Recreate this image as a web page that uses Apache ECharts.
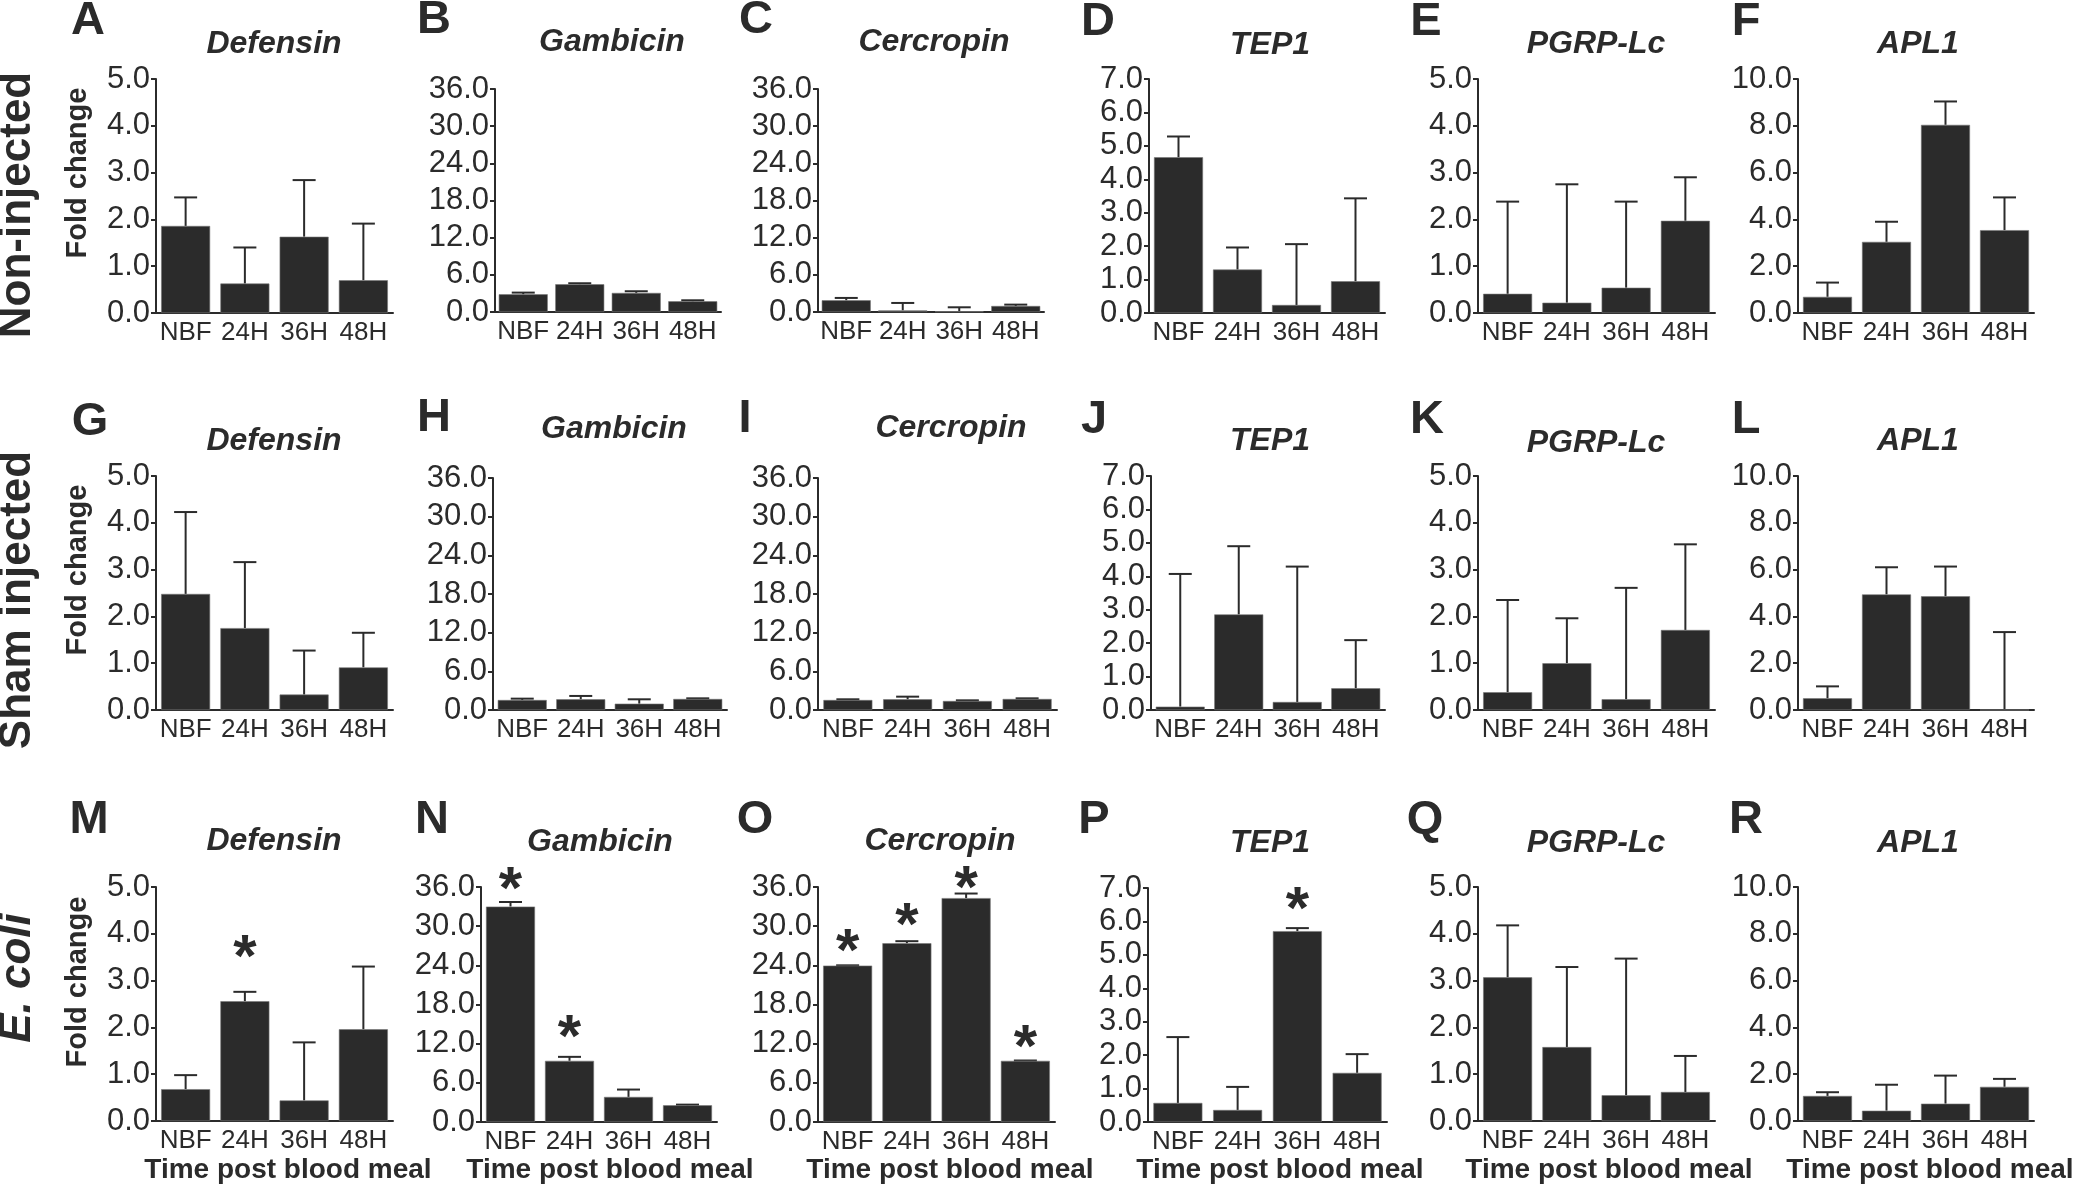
<!DOCTYPE html>
<html><head><meta charset="utf-8">
<script src="https://cdn.jsdelivr.net/npm/echarts@6/dist/echarts.min.js"></script>
<style>html,body{margin:0;padding:0;background:#fff}#c{width:2078px;height:1190px}</style>
</head><body><div id="c"></div>
<script>
// ---------------- data ----------------
const categories = ['NBF', '24H', '36H', '48H'];
const genes = ['Defensin', 'Gambicin', 'Cercropin', 'TEP1', 'PGRP-Lc', 'APL1'];
const panelLetters = ['A','B','C','D','E','F','G','H','I','J','K','L','M','N','O','P','Q','R'];
const groupNames = ['Non-injected', 'Sham injected', 'E. coli'];
const yTitle = 'Fold change';
const xTitle = 'Time post blood meal';
const yMax = [5, 36, 36, 7, 5, 10];
const yStep = [1, 6, 6, 1, 1, 2];

// mean fold change (bar height) and top of error bar, per gene, per time point
const nonInjectedMean = [
  [1.86, 0.63, 1.63, 0.70],
  [2.86, 4.48, 3.08, 1.73],
  [1.89, 0.27, 0.10, 0.97],
  [4.66, 1.30, 0.24, 0.95],
  [0.41, 0.22, 0.54, 1.97],
  [0.69, 3.04, 8.04, 3.54]
];
const nonInjectedUpper = [
  [2.47, 1.40, 2.84, 1.91],
  [3.13, 4.64, 3.35, 1.89],
  [2.27, 1.46, 0.76, 1.19],
  [5.28, 1.96, 2.06, 3.43],
  [2.38, 2.75, 2.38, 2.90],
  [1.30, 3.90, 9.04, 4.94]
];
const shamMean = [
  [2.48, 1.75, 0.33, 0.91],
  [1.55, 1.66, 0.98, 1.71],
  [1.55, 1.66, 1.40, 1.71],
  [0.10, 2.86, 0.24, 0.65],
  [0.38, 1.00, 0.23, 1.71],
  [0.50, 4.94, 4.86, 0.00]
];
const shamUpper = [
  [4.23, 3.16, 1.27, 1.65],
  [1.76, 2.18, 1.66, 1.81],
  [1.66, 2.07, 1.50, 1.81],
  [4.07, 4.90, 4.29, 2.09],
  [2.35, 1.96, 2.61, 3.54],
  [1.01, 6.10, 6.13, 3.33]
];
const ecoliMean = [
  [0.68, 2.56, 0.44, 1.96],
  [33.0, 9.37, 3.84, 2.56],
  [23.96, 27.39, 34.3, 9.37],
  [0.57, 0.36, 5.71, 1.47],
  [3.07, 1.58, 0.55, 0.62],
  [1.07, 0.44, 0.74, 1.46]
];
const ecoliUpper = [
  [0.98, 2.76, 1.68, 3.30],
  [33.7, 9.98, 4.97, 2.66],
  [24.0, 27.7, 35.0, 9.42],
  [2.54, 1.05, 5.80, 2.03],
  [4.18, 3.29, 3.47, 1.39],
  [1.23, 1.55, 1.94, 1.80]
];
// height (in axis units) where a significance asterisk sits
const ecoliStars = [
  [null, 3.75, null, null],
  [37.4, 14.8, null, null],
  [27.9, 32.0, 37.6, 13.3],
  [null, null, 6.73, null],
  [null, null, null, null],
  [null, null, null, null]
];

// ---------------- layout ----------------
const FONT = "'Liberation Sans', Arial, Helvetica, sans-serif";
const INK = '#2b2b2b';
const BAR = '#2b2b2b';
// [left, right, top, bottom] of each plot area, in px
const boxes = [
  [156, 393, 79, 313], [495, 721, 89, 312], [818, 1044, 89, 312], [1149, 1385, 79, 313], [1478, 1715, 79, 313], [1798, 2034, 79, 313],
  [156, 393, 476, 710], [493, 727, 478, 710], [818, 1057, 478, 710], [1151, 1385, 476, 710], [1478, 1715, 476, 710], [1798, 2034, 476, 710],
  [156, 393, 887, 1121], [481, 717, 887, 1122], [818, 1055, 887, 1122], [1148, 1387, 888, 1122], [1478, 1715, 887, 1121], [1798, 2034, 887, 1121]
];
const letterPos = [
  [88, 21], [434, 20], [756, 20], [1098, 22], [1426, 22], [1746, 22],
  [90, 422], [434, 418], [745, 419], [1094, 420], [1427, 420], [1746, 420],
  [89, 820], [432, 820], [755, 820], [1094, 820], [1425, 820], [1746, 820]
];
const titlePos = [
  [274, 44], [612, 42], [934, 42], [1270, 45], [1596, 44], [1918, 44],
  [274, 441], [614, 429], [951, 428], [1270, 441], [1596, 443], [1918, 441],
  [274, 841], [600, 842], [940, 841], [1270, 843], [1596, 843], [1918, 843]
];
const xTitlePos = [288, 610, 950, 1280, 1609, 1930];
const groupPos = [[18, 205], [18, 600], [18, 978]];
const foldPos = [[78, 173], [78, 570], [78, 982]];

const means = [nonInjectedMean, shamMean, ecoliMean];
const uppers = [nonInjectedUpper, shamUpper, ecoliUpper];

const grids = [], xAxes = [], yAxes = [], series = [], graphics = [];

function errRender(params, api) {
  const x = api.value(0), m = api.value(1), u = api.value(2);
  const p0 = api.coord([x, m]);
  const p1 = api.coord([x, u]);
  const cw = 23;
  const st = { stroke: INK, lineWidth: 2 };
  return {
    type: 'group',
    children: [
      { type: 'line', shape: { x1: p0[0], y1: p0[1], x2: p1[0], y2: p1[1] }, style: st },
      { type: 'line', shape: { x1: p1[0] - cw / 2, y1: p1[1], x2: p1[0] + cw / 2, y2: p1[1] }, style: st }
    ]
  };
}
function starRender(params, api) {
  const p = api.coord([api.value(0), api.value(1)]);
  return {
    type: 'text', x: p[0], y: p[1] + 14,
    style: { text: '*', fill: INK, font: 'bold 60px ' + FONT, textAlign: 'center', textVerticalAlign: 'middle' }
  };
}

for (let r = 0; r < 3; r++) {
  for (let c = 0; c < 6; c++) {
    const idx = r * 6 + c;
    const [l, rr, t, b] = boxes[idx];
    grids.push({ left: l, top: t, width: rr - l, height: b - t, outerBoundsMode: 'none' });
    xAxes.push({
      type: 'category', gridIndex: idx, data: categories, boundaryGap: true,
      axisLine: { show: true, lineStyle: { color: INK, width: 2 } },
      axisTick: { show: false },
      axisLabel: { color: INK, fontSize: 26, fontFamily: FONT, margin: 7, interval: 0 }
    });
    yAxes.push({
      type: 'value', gridIndex: idx, min: 0, max: yMax[c], interval: yStep[c],
      axisLine: { show: true, lineStyle: { color: INK, width: 2 } },
      axisTick: { show: true, length: 5, lineStyle: { color: INK, width: 2 } },
      splitLine: { show: false },
      axisLabel: { color: INK, fontSize: 31, fontFamily: FONT, margin: 6, formatter: v => v.toFixed(1) }
    });
    const mean = means[r][c], up = uppers[r][c];
    series.push({
      type: 'bar', xAxisIndex: idx, yAxisIndex: idx, data: mean, barWidth: 49,
      itemStyle: { color: BAR, borderColor: '#777', borderWidth: 0.6 }, silent: true
    });
    series.push({
      type: 'custom', xAxisIndex: idx, yAxisIndex: idx, clip: false, silent: true,
      data: mean.map((m, i) => [i, m, up[i]]),
      encode: { x: 0, y: [1, 2] },
      renderItem: errRender, z: 1
    });
    if (r === 2) {
      const sd = [];
      ecoliStars[c].forEach((v, i) => { if (v !== null) sd.push([i, v]); });
      if (sd.length) {
        series.push({
          type: 'custom', xAxisIndex: idx, yAxisIndex: idx, clip: false, silent: true,
          data: sd, encode: { x: 0, y: 1 }, renderItem: starRender
        });
      }
    }
    // panel letter
    graphics.push({ type: 'text', x: letterPos[idx][0], y: letterPos[idx][1],
      style: { text: panelLetters[idx], fill: INK, font: 'bold 47px ' + FONT, textAlign: 'center', textVerticalAlign: 'middle' } });
    // gene title
    graphics.push({ type: 'text', x: titlePos[idx][0], y: titlePos[idx][1],
      style: { text: genes[c], fill: INK, font: 'italic bold 32px ' + FONT, textAlign: 'center', textVerticalAlign: 'middle' } });
  }
  graphics.push({ type: 'text', x: groupPos[r][0], y: groupPos[r][1], rotation: Math.PI / 2,
    style: { text: groupNames[r], fill: INK, font: (r === 2 ? 'italic ' : '') + 'bold 44px ' + FONT, textAlign: 'center', textVerticalAlign: 'middle' } });
  graphics.push({ type: 'text', x: foldPos[r][0], y: foldPos[r][1], rotation: Math.PI / 2,
    style: { text: yTitle, fill: INK, font: 'bold 29px ' + FONT, textAlign: 'center', textVerticalAlign: 'middle' } });
}
for (let c = 0; c < 6; c++) {
  graphics.push({ type: 'text', x: xTitlePos[c], y: 1170,
    style: { text: xTitle, fill: INK, font: 'bold 28px ' + FONT, textAlign: 'center', textVerticalAlign: 'middle' } });
}

const chart = echarts.init(document.getElementById('c'), null, { renderer: 'canvas' });
chart.setOption({
  animation: false,
  backgroundColor: '#ffffff',
  textStyle: { fontFamily: FONT },
  grid: grids, xAxis: xAxes, yAxis: yAxes, series: series,
  graphic: { elements: graphics }
});
</script>
</body></html>
